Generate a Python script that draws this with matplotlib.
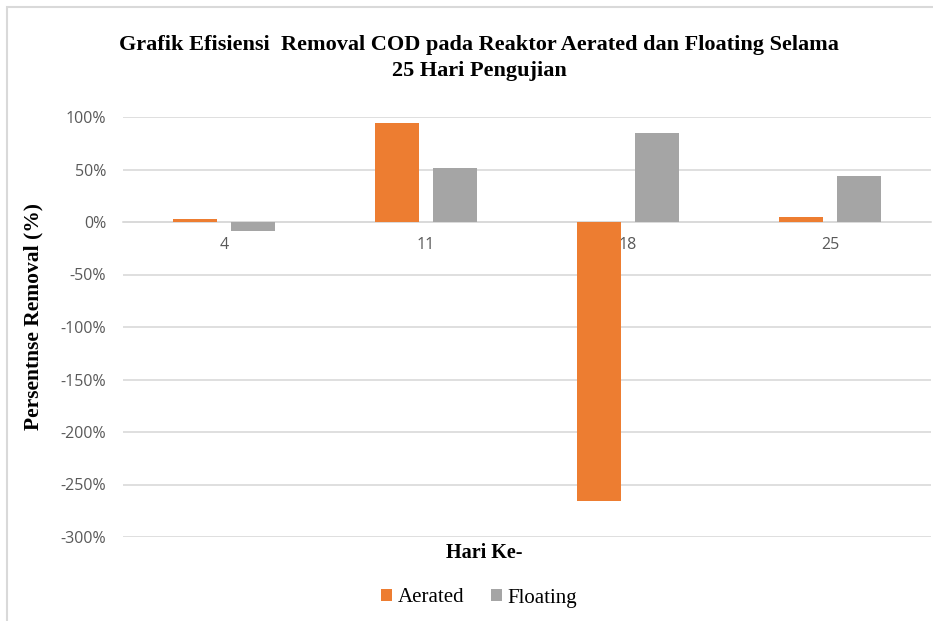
import matplotlib
matplotlib.use("Agg")
import matplotlib.pyplot as plt
import numpy as np
from matplotlib.ticker import FuncFormatter
from matplotlib.patches import Rectangle

days = ["4", "11", "18", "25"]
aerated = [2.5, 94.6, -266.0, 5.0]
floating = [-8.5, 51.7, 85.0, 44.0]

orange = "#ED7D31"
grey = "#A5A5A5"
serif = "Liberation Serif"
sans = "Open Sans"

plt.rcParams["axes.unicode_minus"] = False

fig = plt.figure(figsize=(9.33, 6.21), dpi=100)
fig.patches.append(Rectangle((7 / 933, -0.1), 1.2, 1 - 7 / 621 + 0.1,
                             transform=fig.transFigure, fill=False,
                             edgecolor="#d9d9d9", linewidth=1.5))
ax = fig.add_axes([123 / 933, 1 - 537 / 621, 808 / 933, 420 / 621])

x = np.arange(len(days))
ax.bar(x - 0.144, aerated, width=0.22, color=orange, label="Aerated", zorder=3)
ax.bar(x + 0.144, floating, width=0.22, color=grey, label="Floating", zorder=3)

ax.set_xlim(-0.5, len(days) - 0.5)
ax.set_ylim(-300, 100)
ax.set_yticks(np.arange(-300, 101, 50))
ax.yaxis.set_major_formatter(FuncFormatter(lambda v, p: f"{v:.0f}%"))
ax.grid(axis="y", color="#d9d9d9", linewidth=1.2, zorder=0)
ax.set_axisbelow(True)

for s in ["top", "right", "left"]:
    ax.spines[s].set_visible(False)
ax.spines["bottom"].set_position(("data", 0))
ax.spines["bottom"].set_color("#d9d9d9")
ax.spines["bottom"].set_linewidth(1.2)

ax.set_xticks(x)
ax.set_xticklabels(days)
ax.tick_params(axis="both", length=0, labelsize=11.5, labelcolor="#595959")
ax.tick_params(axis="x", pad=11)
ax.tick_params(axis="y", pad=12)
for lab in ax.get_xticklabels() + ax.get_yticklabels():
    lab.set_fontfamily(sans)

fig.text(479 / 933, 1 - 58 / 621,
         "Grafik Efisiensi  Removal COD pada Reaktor Aerated dan Floating Selama\n25 Hari Pengujian",
         ha="center", va="center", fontsize=16, fontweight="bold",
         family=serif, linespacing=1.4)
fig.text(33 / 933, 1 - 316 / 621, "Persentnse Removal (%)", rotation=90,
         ha="center", va="center", fontsize=15.5, fontweight="bold", family=serif)
fig.text(484 / 933, 1 - 553 / 621, "Hari Ke-", ha="center", va="center",
         fontsize=14.5, fontweight="bold", family=serif)

fig.legend(loc="center", bbox_to_anchor=(479 / 933, 1 - 598 / 621), ncol=2,
           frameon=False, prop={"family": serif, "size": 15},
           handlelength=0.55, handleheight=0.55, handletextpad=0.25,
           columnspacing=1.3)

fig.savefig("out.png", dpi=100)
